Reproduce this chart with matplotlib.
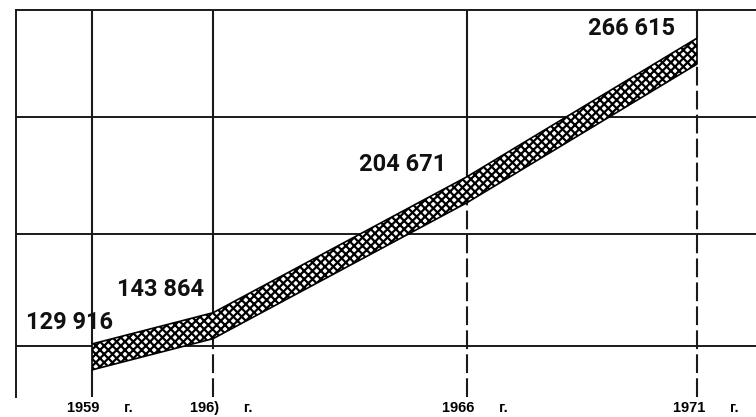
import numpy as np
import matplotlib
matplotlib.use("Agg")
import matplotlib.pyplot as plt
from matplotlib.transforms import ScaledTranslation

# values
years = [1959, 1961, 1966, 1971]
values = [129916, 143864, 204671, 266615]
value_labels = ["129 916", "143 864", "204 671", "266 615"]
tick_labels = ["1959      г.", "196)      г.", "1966      г.", "1971      г."]
grid_values = [135000, 185000, 237000]

# The drawing is not to scale along x, so map each year to where it was drawn
KNOT_YEARS = np.array([1959, 1961, 1966, 1971], dtype=float)
KNOT_PX = np.array([92, 213, 467, 697], dtype=float)
SLOPE_LO = (KNOT_PX[1] - KNOT_PX[0]) / (KNOT_YEARS[1] - KNOT_YEARS[0])
SLOPE_HI = (KNOT_PX[-1] - KNOT_PX[-2]) / (KNOT_YEARS[-1] - KNOT_YEARS[-2])


def year_to_px(x):
    x = np.asarray(x, dtype=float)
    out = np.interp(x, KNOT_YEARS, KNOT_PX)
    out = np.where(x < KNOT_YEARS[0], KNOT_PX[0] + (x - KNOT_YEARS[0]) * SLOPE_LO, out)
    out = np.where(x > KNOT_YEARS[-1], KNOT_PX[-1] + (x - KNOT_YEARS[-1]) * SLOPE_HI, out)
    return out


def px_to_year(p):
    p = np.asarray(p, dtype=float)
    out = np.interp(p, KNOT_PX, KNOT_YEARS)
    out = np.where(p < KNOT_PX[0], KNOT_YEARS[0] + (p - KNOT_PX[0]) / SLOPE_LO, out)
    out = np.where(p > KNOT_PX[-1], KNOT_YEARS[-1] + (p - KNOT_PX[-1]) / SLOPE_HI, out)
    return out


plt.rcParams["hatch.linewidth"] = 1.6
line_color = "#1a1a1a"

fig = plt.figure(figsize=(7.56, 4.17), dpi=100)
ax = fig.add_axes([16 / 756, 20 / 417, 740 / 756, 387 / 417])
ax.set_xscale("function", functions=(year_to_px, px_to_year))
ax.set_xlim(float(px_to_year(16)), float(px_to_year(756)))
y_bottom, y_top = 112000, 285000
ax.set_ylim(y_bottom, y_top)

for side in ["right", "bottom"]:
    ax.spines[side].set_visible(False)
for side in ["left", "top"]:
    ax.spines[side].set_linewidth(1.4)
    ax.spines[side].set_color(line_color)

# horizontal rules
for g in grid_values:
    ax.axhline(g, color=line_color, lw=1.4, zorder=1)

# hatched band
half = 5800
lo = np.array(values) - half
hi = np.array(values) + half
ax.fill_between(years, lo, hi, facecolor="white", edgecolor="black",
                hatch="xxxx", lw=1.2, zorder=3)

# vertical rules: solid above the band, dashed drop lines below
for i, (yr, v) in enumerate(zip(years, values)):
    ax.vlines(yr, v + half, y_top, colors=line_color, lw=1.5, zorder=2)
    style = "-" if i == 0 else (0, (9, 2.5))
    ax.vlines(yr, y_bottom, v - half, colors=line_color, lw=1.5,
              linestyles=[style], zorder=2)

# value labels
offsets = [(-16, 25), (-38, 26), (-46, 18), (-47.5, 16.5)]
for yr, v, lab, off in zip(years, values, value_labels, offsets):
    ax.annotate(lab, (yr, v), xytext=off, textcoords="offset points",
                ha="center", va="center", fontsize=17, fontweight="bold",
                family=["Roboto", "DejaVu Sans"], color="#111111", zorder=5)

ax.set_yticks([])
ax.set_xticks(years)
ax.set_xticklabels(tick_labels, fontsize=10.5, fontweight="bold",
                   family=["Liberation Sans", "DejaVu Sans"])
ax.tick_params(axis="x", length=0, pad=3)
ax.minorticks_off()
shift = ScaledTranslation(6 / 72, 0, fig.dpi_scale_trans)
for lab in ax.get_xticklabels():
    lab.set_transform(lab.get_transform() + shift)

fig.savefig("out.png", dpi=100)
